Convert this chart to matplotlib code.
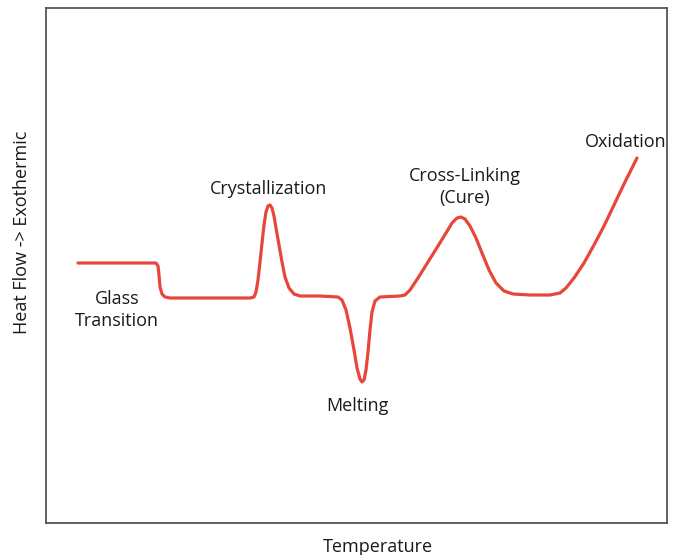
import matplotlib
matplotlib.use("Agg")
import numpy as np
import matplotlib.pyplot as plt

############## Data (pixel-ish units) ##############

# temperature axis (arbitrary units, 0 = left edge of the box)
temp = [32, 104, 110, 112, 113, 114, 116, 119, 124, 154, 204, 208,
        210, 212, 214, 216, 218, 220, 222, 224, 226, 228, 230, 233, 236, 239, 243, 248, 254, 274, 292,
        296, 300, 304, 308, 311, 314, 316, 318, 320, 322, 324, 326, 329, 334, 354, 359,
        364, 372, 382, 392, 400, 406, 411, 415, 419, 424, 430, 436, 443, 450, 458, 467, 484, 504, 514,
        520, 528, 538, 548, 558, 568, 578, 586, 591]

# heat flow (arbitrary units, up = exothermic)
heat_flow = [260, 260, 260, 257, 248, 236, 229, 226, 225, 225, 225, 226,
             231, 243, 261, 280, 298, 311, 317, 318, 315, 307, 295, 278, 261, 246, 235, 229, 227, 227, 226,
             223, 213, 195, 173, 155, 144, 141, 143, 153, 171, 193, 211, 222, 226, 227, 228,
             233, 245, 261, 277, 290, 300, 305, 306, 304, 297, 285, 270, 253, 240, 232, 229, 228, 228, 230,
             235, 245, 260, 278, 297, 318, 339, 355, 365]

event_labels = ["Glass\nTransition", "Crystallization", "Melting", "Cross-Linking\n(Cure)", "Oxidation"]

############## Figure ##############

W, H = 689, 555
fig = plt.figure(figsize=(W / 100, H / 100), dpi=100)
left, right, top, bottom = 46, 667, 8, 523
ax = fig.add_axes([left / W, 1 - bottom / H, (right - left) / W, (bottom - top) / H])
ax.set_xlim(0, right - left)
ax.set_ylim(0, bottom - top)

ax.plot(temp, heat_flow, color="#e8463a", lw=2.3, solid_joinstyle="round", solid_capstyle="round")

ax.set_xticks([])
ax.set_yticks([])
for s in ax.spines.values():
    s.set_color("#555555")
    s.set_linewidth(1.3)

police = "Open Sans"
taille = 13
couleur = "#1a1a1a"

# positions des annotations (pixels de l'image)
pos = [(117, 310), (269, 189), (357, 406), (465, 187), (626, 142)]
for txt, (px, py) in zip(event_labels, pos):
    ax.text(px - left, bottom - py, txt, ha="center", va="center",
            fontsize=taille, family=police, color=couleur, linespacing=1.3)

fig.text(378 / W, 1 - 547 / H, "Temperature", ha="center", va="center",
         fontsize=taille, family=police, color=couleur)
fig.text(22 / W, 1 - 232 / H, "Heat Flow -> Exothermic", ha="center", va="center",
         rotation=90, fontsize=taille, family=police, color=couleur)

fig.savefig("out.png", dpi=100)
